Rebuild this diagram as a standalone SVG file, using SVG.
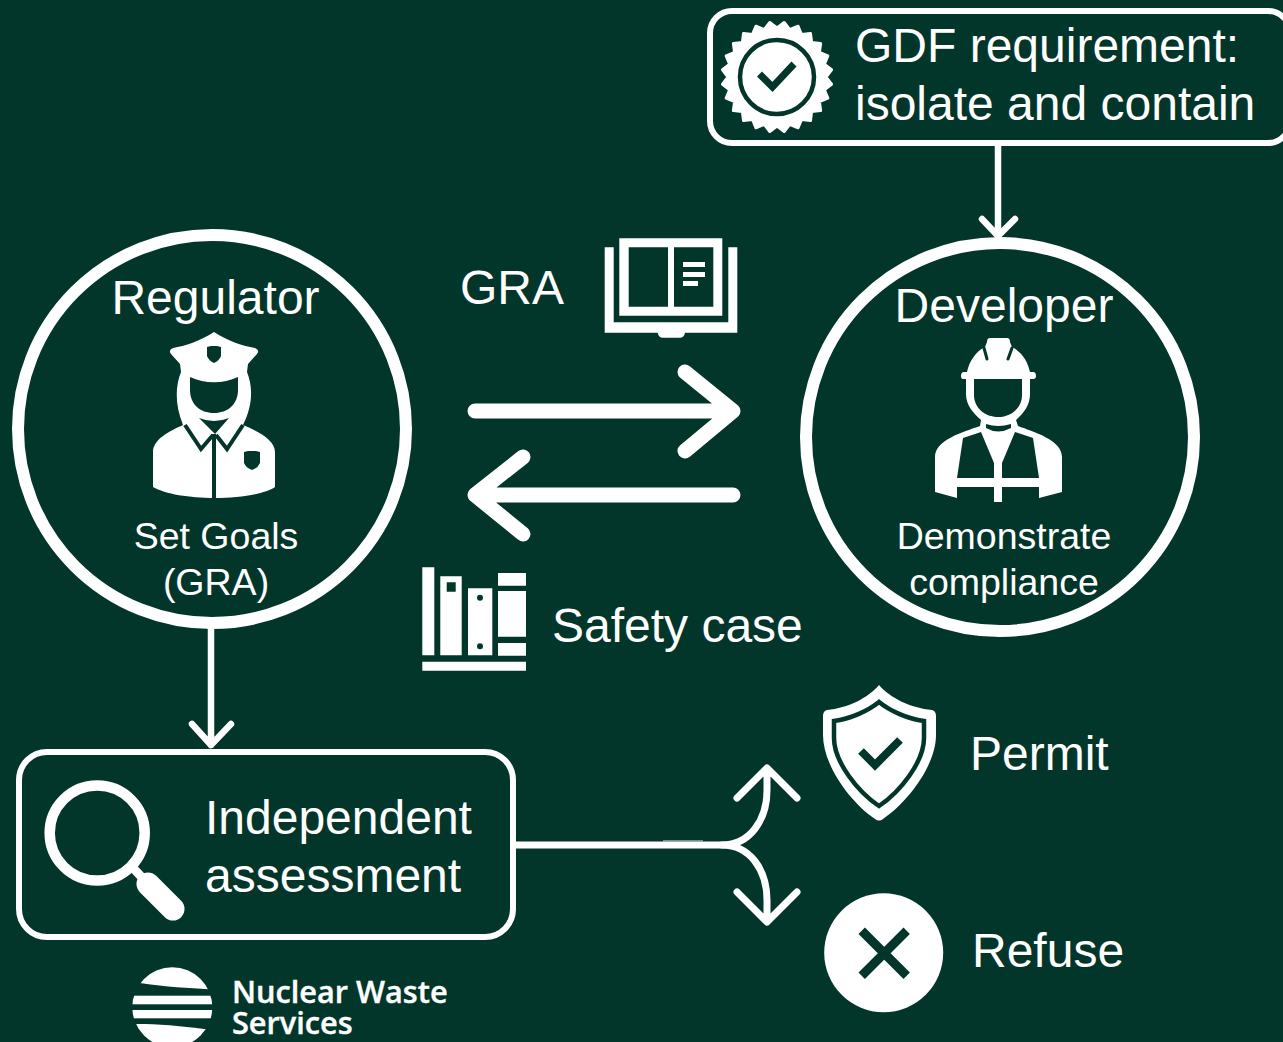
<svg xmlns="http://www.w3.org/2000/svg" width="1283" height="1042" viewBox="0 0 1283 1042">
<style>
text{font-family:"Liberation Sans",Arial,sans-serif;fill:#fff}
.l{font-size:48px}
.s{font-size:37.500px}
.m{text-anchor:middle}
.w{fill:#fff}
.d{fill:#02362a}
.ln{fill:none;stroke:#fff;stroke-width:6}
.o{fill:none;stroke:#fff}
.k{fill:none;stroke:#02362a}
.c{fill:none;stroke:#fff;stroke-linecap:round;stroke-linejoin:round}
</style>
<defs><clipPath id="logoClip"><circle cx="172.3" cy="1007.3" r="40"/></clipPath></defs>
<rect width="1283" height="1042" class="d"/>
<g id="connectors">
<path class="c" stroke-width="6.500" d="M998 146V236M982 219L998 236L1015 219"/>
<path class="c" stroke-width="6.500" d="M211 628V745M192 724L211 745L231 724"/>
<path class="c" stroke-width="15" d="M475 411H733M685 372L733 411L685 451"/>
<path class="c" stroke-width="15" d="M733 495H475M523 457L475 495L523 534"/>
<path class="c" stroke-width="7" d="M514 845H722C750 845 767 820 767 790V769M737 798L767 768L797 798"/>
<path class="c" stroke-width="7" d="M722 845C750 845 767 870 767 900V921M737 892L767 922L797 892"/>
<rect x="663" y="840" width="40" height="1.5" fill="#fff" opacity=".45"/>
</g>
<g id="gdf">
<rect x="710" y="11" width="580" height="132" rx="22" class="ln"/>
<g transform="translate(777 77)">
<polygon class="w" stroke="#fff" stroke-width="3" stroke-linejoin="round" points="49,0 54.5,7.2 47.3,12.7 50.8,21.1 42.4,24.5 43.6,33.5 34.6,34.6 33.5,43.6 24.5,42.4 21.1,50.8 12.7,47.3 7.2,54.5 0,49 -7.2,54.5 -12.7,47.3 -21.1,50.8 -24.5,42.4 -33.5,43.6 -34.6,34.6 -43.6,33.5 -42.4,24.5 -50.8,21.1 -47.3,12.7 -54.5,7.2 -49,0 -54.5,-7.2 -47.3,-12.7 -50.8,-21.1 -42.4,-24.5 -43.6,-33.5 -34.6,-34.6 -33.5,-43.6 -24.5,-42.4 -21.1,-50.8 -12.7,-47.3 -7.2,-54.5 0,-49 7.2,-54.5 12.7,-47.3 21.1,-50.8 24.5,-42.4 33.5,-43.6 34.6,-34.6 43.6,-33.5 42.4,-24.5 50.8,-21.1 47.3,-12.7 54.5,-7.2"/>
<circle r="37" class="k" stroke-width="4.500"/>
<path class="k" stroke-width="7" d="M-17.500 -3L-4.500 10L17 -13"/>
</g>
<text class="l" x="855" y="62">GDF requirement:</text>
<text class="l" x="855" y="120">isolate and contain</text>
</g>
<g id="regulator">
<circle cx="212" cy="429" r="194" class="o" stroke-width="12"/>
<text class="l m" x="215.500" y="314">Regulator</text>
<path class="w" d="M214 332C200 341 185 346 173 348Q168 350 171 354L180 364L181 372C175 387 175 405 183 425C170 431 153 439 153 452V487C165 494 190 498 214 498C240 498 265 494 275 487V452C275 440 258 431 243 425C253 405 253 387 247 372L248 364L257 354Q260 350 255 348C243 346 228 341 214 332Z"/>
<path class="d" d="M190 377C205 384 223 384 238 377V390C238 404 228 413 214 413C200 413 190 404 190 390Z"/>
<path class="d" d="M199 418Q214 424 229 418L215 434Z"/>
<path class="k" stroke-width="4" d="M185 425L201 449L213 435M243 425L227 449L216 435M214 434V498"/>
<path class="d" d="M207 347L211 346H217L221 347V356Q219 361 214 363Q209 361 207 356Z"/>
<path class="d" d="M244 452L248 451H256L260 452V463Q258 468 252 470Q246 468 244 463Z"/>
<text class="s m" x="216" y="549">Set Goals</text>
<text class="s m" x="216" y="595">(GRA)</text>
</g>
<g id="developer">
<circle cx="1000" cy="437" r="194" class="o" stroke-width="12"/>
<text class="l m" x="1004" y="322">Developer</text>
<path class="w" d="M990 338H1007Q1010 338 1010 342L1012 347C1022 352 1028 362 1030 372H1033Q1036 372 1036 376Q1036 379 1033 379H1030V394C1030 405 1024 413 1016 420L1018 426C1034 432 1062 440 1062 457V492L1039 498V487H1002V502H994V487H957V498L935 492V457C935 440 963 432 980 426L981 420C973 413 966 405 966 394V379H963Q961 379 961 376Q961 372 964 372H967C969 362 975 352 985 347L987 342Q987 338 990 338Z"/>
<path class="k" stroke-width="3" stroke-linecap="round" d="M984 348L987 359M1012 348L1008 359"/>
<path class="d" d="M974 379H1022V395C1022 408 1011 417 998 417C985 417 974 408 974 395Z"/>
<path class="d" d="M986 424Q998 428 1011 424L1011 428Q998 435 986 428Z"/>
<path class="d" d="M963 438L981 432L994 463V478H957Z"/>
<path class="d" d="M1033 438L1015 432L1002 463V478H1039Z"/>
<text class="s m" x="1004" y="549">Demonstrate</text>
<text class="s m" x="1004" y="595">compliance</text>
</g>
<g id="gra">
<text class="l" x="460" y="304">GRA</text>
<path class="w" fill-rule="evenodd" d="M619.300 238.300H722.300V315.700H619.300ZM628.700 247.300V306.700H668V247.300ZM674 247.300V306.700H713.300V247.300Z"/>
<path class="w" d="M683 262H705V267H683ZM683 272H705V277H683ZM683 281H698V286H683Z"/>
<path class="w" d="M604.700 247.300H613.700V322.300H728.300V247.300H737.300V332.700H685Q684 337.700 680 337.700H663Q658.500 337.700 657.700 332.700H604.700Z"/>
</g>
<g id="safety-case">
<path class="w" fill-rule="evenodd" d="M422.300 567.300H434.300V655.300H422.300ZM440.300 576.300H461.700V655.300H440.300ZM446.700 582.300V591.700H455.700V582.300ZM468 588.300H492.300V655.300H468ZM498 573H526V585.700H498ZM498 591H526V636.700H498ZM498 643H526V655.700H498ZM422.300 661.700H526V670.700H422.300Z"/>
<circle cx="480" cy="597.700" r="3" class="d"/>
<circle cx="480" cy="646.300" r="3" class="d"/>
<text class="l" x="552" y="642">Safety case</text>
</g>
<g id="assessment">
<rect x="19" y="752" width="494" height="185" rx="28" class="ln"/>
<circle cx="97.200" cy="833" r="47.500" class="o" stroke-width="10.500"/>
<path class="c" stroke-width="9" d="M135 870L150 886"/>
<path class="c" stroke-width="23" d="M148 884L173 909"/>
<text class="l" x="205" y="834">Independent</text>
<text class="l" x="205" y="892">assessment</text>
</g>
<g id="permit">
<path class="w" d="M879 685C868 698 848 708 827 710Q823 711 823 716V735C823 765 850 802 875 819Q879 822 883 819C908 802 936 765 936 735V716Q936 711 932 710C911 708 890 698 879 685Z"/>
<path class="k" stroke-width="4.500" d="M879 702C868 711 850 719 834 721V738C834 762 858 792 879 806C900 792 924 762 924 738V721C908 719 890 711 879 702Z"/>
<path class="k" stroke-width="8" d="M861 751L875 765L900 740"/>
<text class="l" x="970" y="770">Permit</text>
</g>
<g id="refuse">
<circle cx="883.700" cy="952.700" r="59.500" class="w"/>
<path class="k" stroke-width="9" d="M861.700 930.700L906.700 975.700M906.700 930.700L861.700 975.700"/>
<text class="l" x="972" y="967">Refuse</text>
</g>
<g id="logo">
<g clip-path="url(#logoClip)">
<path class="w" d="M120 960H225V990L208.300 989.300C190 988 165 987 141.700 983.300L120 981Z"/>
<rect x="120" y="995.700" width="105" height="8.600" class="w"/>
<rect x="120" y="1010" width="105" height="8.300" class="w"/>
<path class="w" d="M120 1024H136.700C160 1024 185 1026 225 1032V1050H120Z"/>
</g>
<text font-size="30.700" font-weight="600" stroke="#fff" stroke-width=".4" style="font-family:'Open Sans',sans-serif"><tspan x="232" y="1003">Nuclear Waste</tspan><tspan x="232" y="1034">Services</tspan></text>
</g>
</svg>
